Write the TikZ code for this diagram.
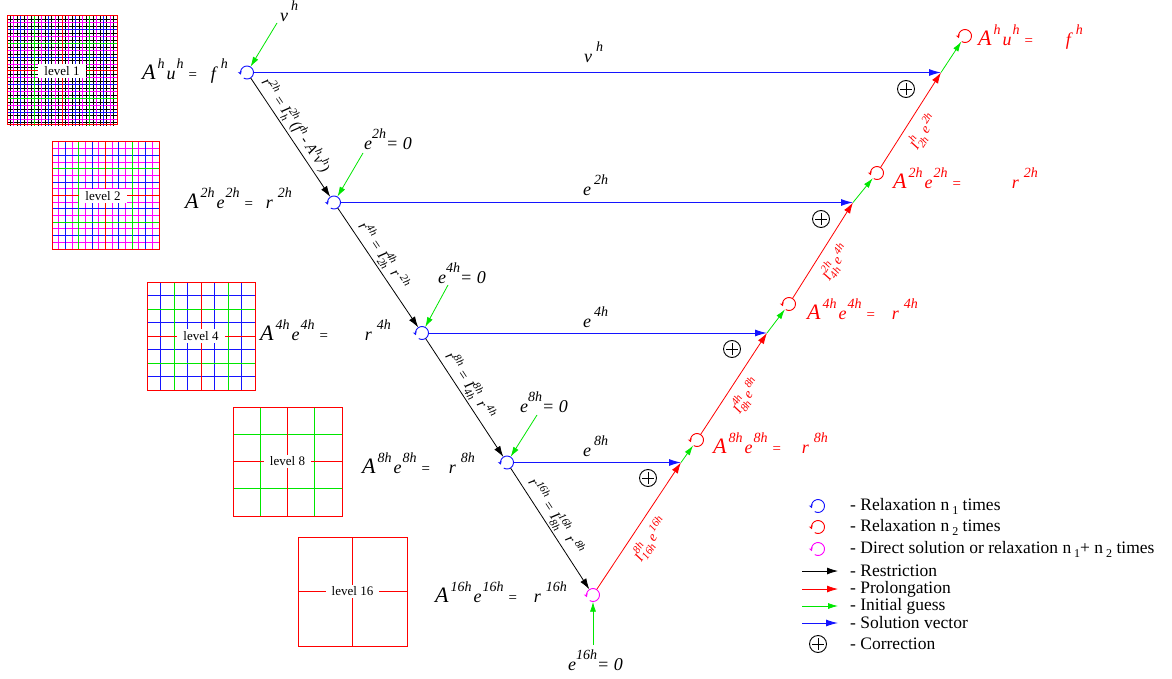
\documentclass[tikz,border=0pt]{standalone}
\usepackage{fontspec}
\setmainfont{Liberation Serif}
\usetikzlibrary{arrows.meta}
\definecolor{vgreen}{RGB}{0,230,0}
\definecolor{vblue}{RGB}{20,20,255}
\definecolor{vmag}{RGB}{255,0,255}
\newcommand{\Ab}{{\fontsize{22}{22}\selectfont A}}
\newcommand{\su}[1]{\raisebox{11pt}{\fontsize{14}{14}\selectfont #1}}
\newcommand{\sm}[1]{\raisebox{6pt}{\fontsize{11}{11}\selectfont #1}}
\newcommand{\stk}[3]{\makebox[#1][l]{\rlap{\raisebox{7pt}{\fontsize{11}{11}\selectfont #2}}\raisebox{-4pt}{\fontsize{11}{11}\selectfont #3}}}
\newcommand{\lsub}[1]{\raisebox{-4pt}{\fontsize{12}{12}\selectfont #1}}
\newcommand{\eqA}[4]{\Ab\hspace{2pt}\su{#1}\hspace{2pt}#2\hspace{1pt}\su{#1}\hspace{4pt}{\fontsize{15}{15}\selectfont=}\hspace{#4}#3\hspace{5pt}\su{#1}}
\newcommand{\glines}[6]{\foreach \i in {#5}{\draw[#6] ({#1+\i*#3/#4},#2) -- ({#1+\i*#3/#4},{#2+#3}); \draw[#6] (#1,{#2+\i*#3/#4}) -- ({#1+#3},{#2+\i*#3/#4});}}
\begin{document}
\begin{tikzpicture}[x=1pt,y=-1pt,
  rx/.style={circle, minimum size=13pt, inner sep=0pt},
  relax/.pic={\draw[line width=0.9pt, -{Stealth[length=3.5pt,width=4pt]}] (120:6.5) arc[start angle=120, end angle=-200, radius=6.5];},
  oplus/.style={circle, draw, line width=0.9pt, minimum size=17pt, inner sep=0pt,
    path picture={\draw[line width=0.9pt] ([xshift=-6pt]path picture bounding box.center) -- ([xshift=6pt]path picture bounding box.center);
                  \draw[line width=0.9pt] ([yshift=-6pt]path picture bounding box.center) -- ([yshift=6pt]path picture bounding box.center);}},
  restr/.style={draw=black, line width=0.8pt, -{Latex[length=11pt,width=7pt]}},
  prol/.style={draw=red, line width=0.8pt, -{Latex[length=11pt,width=7pt]}},
  guess/.style={draw=vgreen, line width=0.8pt, -{Latex[length=10pt,width=6pt]}},
  sol/.style={draw=vblue, line width=1pt, -{Latex[length=12pt,width=7pt]}},
  eqn/.style={anchor=base west, inner sep=0pt, font=\fontsize{18}{18}\selectfont\itshape},
  blab/.style={pos=0.45, sloped, above=2pt, inner sep=0pt, font=\fontsize{15}{15}\selectfont\itshape},
  rlab/.style={pos=0.47, sloped, below=7pt, inner sep=0pt, text=red, font=\fontsize{14}{14}\selectfont\itshape},
  lvl/.style={fill=white, inner xsep=6pt, inner ysep=2pt, font=\fontsize{13}{13}\selectfont},
  legtxt/.style={anchor=west, inner sep=0pt, font=\fontsize{17.5}{17.5}\selectfont},
  gl/.style={line width=1pt}
]
\useasboundingbox (0,0) rectangle (1172,679);

% ---------- grids ----------
\glines{7}{16}{110}{32}{1,3,...,31}{line width=0.6pt,black}
\glines{7}{16}{110}{32}{2,6,...,30}{gl,vmag}
\glines{7}{16}{110}{32}{4,12,20,28}{gl,vblue}
\glines{7}{16}{110}{32}{8,24}{gl,vgreen}
\glines{7}{16}{110}{32}{16}{gl,red}
\draw[gl,red] (7,16) rectangle (117,125);
\node[lvl] (lv1) at (62,71) {level 1};

\glines{52}{142}{107}{16}{1,3,...,15}{gl,vmag}
\glines{52}{142}{107}{16}{2,6,10,14}{gl,vblue}
\glines{52}{142}{107}{16}{4,12}{gl,vgreen}
\glines{52}{142}{107}{16}{8}{gl,red}
\draw[gl,red] (52,142) rectangle (159,249);
\node[lvl] (lv2) at (103,196) {level 2};

\glines{147}{282}{108}{8}{1,3,5,7}{gl,vblue}
\glines{147}{282}{108}{8}{2,6}{gl,vgreen}
\glines{147}{282}{108}{8}{4}{gl,red}
\draw[gl,red] (147,282) rectangle (255,390);
\node[lvl] (lv4) at (201,336) {level 4};

\glines{233}{407}{109}{4}{1,3}{gl,vgreen}
\glines{233}{407}{109}{4}{2}{gl,red}
\draw[gl,red] (233,407) rectangle (342,516);
\node[lvl] (lv8) at (287.5,461.5) {level 8};

\glines{298}{537}{109}{2}{1}{gl,red}
\draw[gl,red] (298,537) rectangle (407,646);
\node[lvl] (lv16) at (352.5,591.5) {level 16};

% ---------- relaxation nodes ----------
\node[rx] (c1) at (247,72.5) {};
\node[rx] (c2) at (334,202.5) {};
\node[rx] (c3) at (422,333) {};
\node[rx] (c4) at (507,462.5) {};
\node[rx] (c5) at (593,595) {};
\node[rx] (r1) at (965,36) {};
\node[rx] (r2) at (877,173) {};
\node[rx] (r3) at (789,304) {};
\node[rx] (r4) at (697,440) {};
\coordinate (j1) at (941,72.5);
\coordinate (j2) at (853,202.5);
\coordinate (j3) at (767,333);
\coordinate (j4) at (681,462.5);

\pic[vblue] at (c1) {relax};
\pic[vblue] at (c2) {relax};
\pic[vblue] at (c3) {relax};
\pic[vblue] at (c4) {relax};
\pic[vmag] at (c5) {relax};
\pic[red] at (r1) {relax};
\pic[red] at (r2) {relax};
\pic[red] at (r3) {relax};
\pic[red] at (r4) {relax};

% ---------- equations ----------
\node[eqn] (e1) at (142,80) {\eqA{h}{u}{f}{13pt}};
\node[eqn] (e2) at (185,208) {\eqA{2h}{e}{r}{12pt}};
\node[eqn] (e3) at (260,340) {\eqA{4h}{e}{r}{36pt}};
\node[eqn] (e4) at (362,473) {\eqA{8h}{e}{r}{18pt}};
\node[eqn] (e5) at (435,602) {\eqA{16h}{e}{r}{16pt}};
\node[eqn, text=red] (f1) at (978,46) {\eqA{h}{u}{f}{32pt}};
\node[eqn, text=red] (f2) at (893,189) {\eqA{2h}{e}{r}{50pt}};
\node[eqn, text=red] (f3) at (807,319) {\eqA{4h}{e}{r}{16pt}};
\node[eqn, text=red] (f4) at (713,453) {\eqA{8h}{e}{r}{20pt}};

% ---------- restriction ----------
\draw[restr] (c1) -- (c2) node[blab] {r\sm{2h} = I\stk{13pt}{2h}{h}(f\sm{h}\,- A\sm{h}v\sm{h})};
\draw[restr] (c2) -- (c3) node[blab] {r\sm{4h} = I\stk{14pt}{4h}{2h} r\,\sm{2h}};
\draw[restr] (c3) -- (c4) node[blab] {r\sm{8h} = I\stk{14pt}{8h}{4h} r\,\sm{4h}};
\draw[restr] (c4) -- (c5) node[blab] {r\sm{16h} = I\stk{19pt}{16h}{8h} r\,\sm{8h}};

% ---------- solution vectors ----------
\draw[sol] (c1) -- (j1);
\draw[sol] (c2) -- (j2);
\draw[sol] (c3) -- (j3);
\draw[sol] (c4) -- (j4);
\node[eqn] (s1) at (584,63) {v\hspace{4pt}\su{h}};
\node[eqn] (s2) at (583,196) {e\hspace{3pt}\su{2h}};
\node[eqn] (s3) at (583,327) {e\hspace{3pt}\su{4h}};
\node[eqn] (s4) at (583,456) {e\hspace{3pt}\su{8h}};

% ---------- prolongation + initial guess ----------
\draw[prol] (c5) -- (j4) node[rlab] {I\stk{19pt}{8h}{16h}e\hspace{2pt}\sm{16h}};
\draw[guess] (j4) -- (r4);
\draw[prol] (r4) -- (j3) node[rlab] {I\stk{14pt}{4h}{8h}e\hspace{2pt}\sm{8h}};
\draw[guess] (j3) -- (r3);
\draw[prol] (r3) -- (j2) node[rlab] {I\stk{14pt}{2h}{4h}e\hspace{2pt}\sm{4h}};
\draw[guess] (j2) -- (r2);
\draw[prol] (r2) -- (j1) node[rlab] {I\stk{14pt}{h}{2h}e\hspace{2pt}\sm{2h}};
\draw[guess] (j1) -- (r1);

% ---------- corrections ----------
\node[oplus] (p1) at (906,89) {};
\node[oplus] (p2) at (821,219) {};
\node[oplus] (p3) at (732,349) {};
\node[oplus] (p4) at (648,478) {};

% ---------- initial guesses on the way down ----------
\coordinate (g1) at (277,23);
\coordinate (g2) at (363,153);
\coordinate (g3) at (448,285);
\coordinate (g4) at (537,415);
\coordinate (g5) at (593,645);
\draw[guess] (g1) -- (c1);
\draw[guess] (g2) -- (c2);
\draw[guess] (g3) -- (c3);
\draw[guess] (g4) -- (c4);
\draw[guess] (g5) -- (c5);
\node[eqn] (i1) at (280,22) {v\hspace{3pt}\su{h}};
\node[eqn] (i2) at (364,150) {e\su{2h}= 0};
\node[eqn] (i3) at (438,283) {e\su{4h}= 0};
\node[eqn] (i4) at (520,412) {e\su{8h}= 0};
\node[eqn] (i5) at (568,670) {e\su{16h}= 0};

% ---------- legend ----------
\node[rx] (lg1) at (818,506) {};
\node[rx] (lg2) at (818,527) {};
\node[rx] (lg3) at (818,549) {};
\pic[vblue] at (lg1) {relax};
\pic[red] at (lg2) {relax};
\pic[vmag] at (lg3) {relax};
\coordinate (la1) at (802,571); \coordinate (lb1) at (838,571);
\coordinate (la2) at (802,589); \coordinate (lb2) at (838,589);
\coordinate (la3) at (802,606); \coordinate (lb3) at (838,606);
\coordinate (la4) at (802,623); \coordinate (lb4) at (838,623);
\draw[restr] (la1) -- (lb1);
\draw[prol] (la2) -- (lb2);
\draw[guess] (la3) -- (lb3);
\draw[sol] (la4) -- (lb4);
\node[oplus] (lg8) at (818,644) {};
\node[legtxt] (t1) at (850,506) {- Relaxation n\,\lsub{1} times};
\node[legtxt] (t2) at (850,527) {- Relaxation n\,\lsub{2} times};
\node[legtxt] (t3) at (850,549) {- Direct solution or relaxation n\,\lsub{1}+ n\,\lsub{2} times};
\node[legtxt] (t4) at (850,571) {- Restriction};
\node[legtxt] (t5) at (850,589) {- Prolongation};
\node[legtxt] (t6) at (850,606) {- Initial guess};
\node[legtxt] (t7) at (850,623) {- Solution vector};
\node[legtxt] (t8) at (850,644) {- Correction};
\end{tikzpicture}
\end{document}
